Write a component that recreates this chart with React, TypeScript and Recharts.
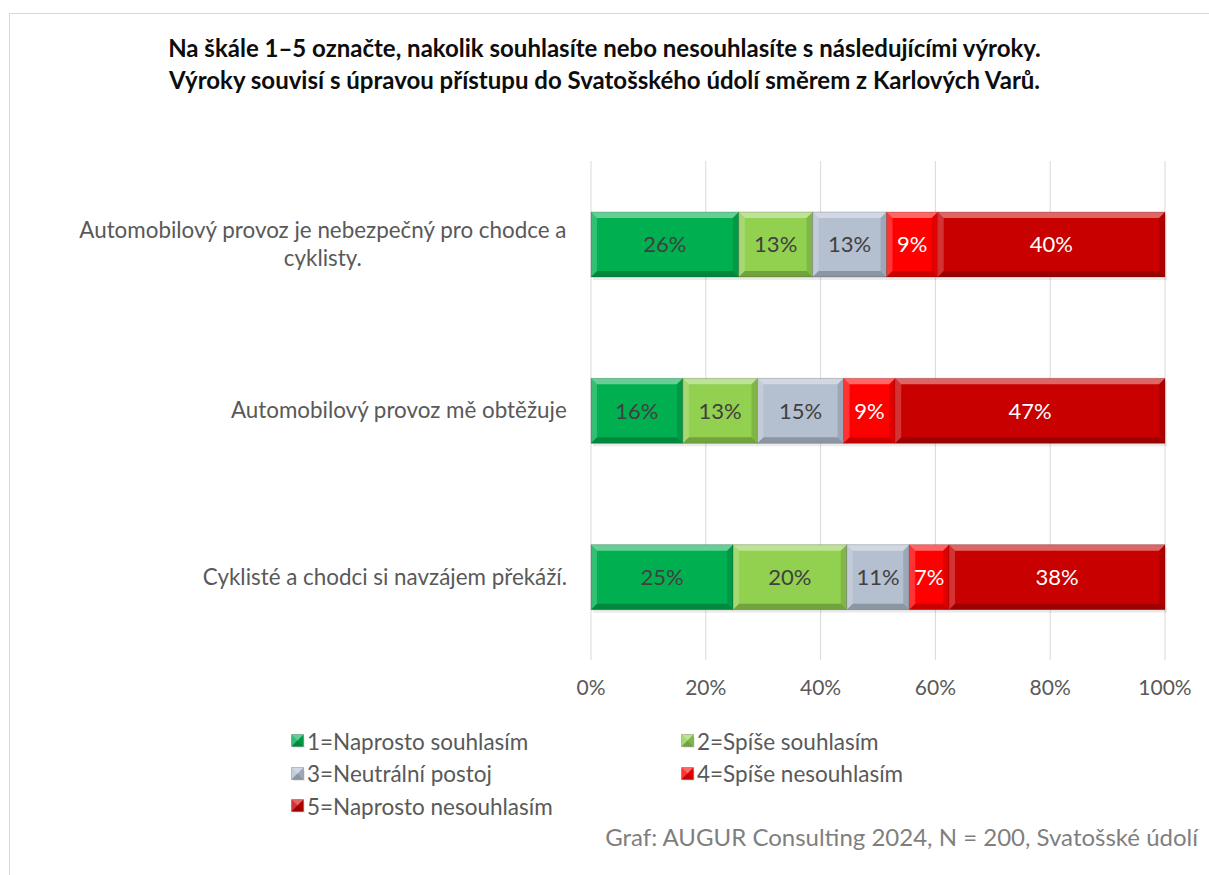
import React from "react";
import { Bar, BarChart, CartesianGrid, LabelList, XAxis, YAxis } from "recharts";

const FONT = "Lato, 'Open Sans', sans-serif";

const CATEGORIES = [
  "Automobilový provoz je nebezpečný pro chodce a|cyklisty.",
  "Automobilový provoz mě obtěžuje",
  "Cyklisté a chodci si navzájem překáží.",
];

const SERIES = [
  { key: "s1", name: "1=Naprosto souhlasím", color: "#00B050", text: "#404040" },
  { key: "s2", name: "2=Spíše souhlasím", color: "#92D050", text: "#404040" },
  { key: "s3", name: "3=Neutrální postoj", color: "#B4BFD0", text: "#404040" },
  { key: "s4", name: "4=Spíše nesouhlasím", color: "#FF0000", text: "#FFFFFF" },
  { key: "s5", name: "5=Naprosto nesouhlasím", color: "#C80000", text: "#FFFFFF" },
];

const S1 = [26, 16, 25];
const S2 = [13, 13, 20];
const S3 = [13, 15, 11];
const S4 = [9, 9, 7];
const S5 = [40, 47, 38];

const X_TICKS = [0, 0.2, 0.4, 0.6, 0.8, 1];

const data = CATEGORIES.map((c, i) => ({
  name: c,
  s1: S1[i],
  s2: S2[i],
  s3: S3[i],
  s4: S4[i],
  s5: S5[i],
}));

const CAT_SIZE = 22.4;

function measure(text: string, font: string) {
  const cv = document.createElement("canvas");
  const ctx = cv.getContext("2d");
  if (!ctx) return text.length * 10;
  ctx.font = font;
  return ctx.measureText(text).width;
}

function CategoryTick(props: any) {
  const { x, y, payload } = props;
  const lines: string[] = String(payload.value).split("|");
  const widths = lines.map((l) => measure(l, `${CAT_SIZE}px Lato`));
  const maxW = Math.max(...widths);
  const right = x - 16;
  const cx = right - maxW / 2;
  const lh = 28;
  const y0 = y - ((lines.length - 1) * lh) / 2;
  return (
    <g>
      {lines.map((l, i) => (
        <text
          key={i}
          x={cx}
          y={y0 + i * lh}
          dy="0.35em"
          textAnchor="middle"
          fill="#595959"
          fontSize={CAT_SIZE}
          fontFamily={FONT}
        >
          {l}
        </text>
      ))}
    </g>
  );
}

function BevelBar(props: any) {
  const { x, y, width: w, height: h, fill } = props;
  if (!w || !h) return null;
  const b = Math.min(6, w / 2, h / 2);
  return (
    <g>
      <rect x={x + 2} y={y + 3} width={w} height={h} fill="#000" opacity={0.08} />
      <rect x={x} y={y} width={w} height={h} fill={fill} />
      <polygon
        points={`${x},${y} ${x + w},${y} ${x + w - b},${y + b} ${x + b},${y + b}`}
        fill="#fff"
        opacity={0.4}
      />
      <polygon
        points={`${x},${y} ${x + b},${y + b} ${x + b},${y + h - b} ${x},${y + h}`}
        fill="#fff"
        opacity={0.2}
      />
      <polygon
        points={`${x + w},${y} ${x + w},${y + h} ${x + w - b},${y + h - b} ${x + w - b},${y + b}`}
        fill="#000"
        opacity={0.12}
      />
      <polygon
        points={`${x},${y + h} ${x + w},${y + h} ${x + w - b},${y + h - b} ${x + b},${y + h - b}`}
        fill="#000"
        opacity={0.22}
      />
      <rect x={x} y={y} width={w} height={h} fill="none" stroke="#000" strokeOpacity={0.18} />
    </g>
  );
}

function LegendIcon({ color }: { color: string }) {
  return (
    <svg width={14} height={14} style={{ display: "block" }}>
      <BevelBar x={0.5} y={0.5} width={12} height={12} fill={color} />
    </svg>
  );
}

export default function App() {
  return (
    <div
      style={{
        position: "absolute",
        left: 0,
        top: 0,
        width: 1209,
        height: 875,
        background: "#fff",
        overflow: "hidden",
        fontFamily: FONT,
      }}
    >
      <div
        style={{
          position: "absolute",
          left: 9,
          top: 13,
          width: 1220,
          height: 880,
          border: "1px solid #d9d9d9",
        }}
      />
      <div
        style={{
          position: "absolute",
          left: 0,
          top: 32,
          width: 1209,
          textAlign: "center",
          fontWeight: 700,
          fontSize: 24,
          lineHeight: "32px",
          color: "#0d0d0d",
        }}
      >
        Na škále 1–5 označte, nakolik souhlasíte nebo nesouhlasíte s následujícími výroky.
        <br />
        Výroky souvisí s úpravou přístupu do Svatošského údolí směrem z Karlových Varů.
      </div>
      <div style={{ position: "absolute", left: 0, top: 0 }}>
        <BarChart
          width={1209}
          height={875}
          data={data}
          layout="vertical"
          stackOffset="expand"
          barSize={65}
          margin={{ top: 161, right: 44, bottom: 185, left: 0 }}
        >
          <CartesianGrid horizontal={false} stroke="#d9d9d9" />
          <XAxis
            type="number"
            domain={[0, 1]}
            ticks={X_TICKS}
            tickFormatter={(v: number) => `${Math.round(v * 100)}%`}
            axisLine={false}
            tickLine={false}
            tickSize={0}
            tickMargin={20}
            height={30}
            tick={{ fill: "#595959", fontSize: 21, fontFamily: FONT }}
          />
          <YAxis
            type="category"
            dataKey="name"
            width={591}
            axisLine={false}
            tickLine={false}
            tick={<CategoryTick />}
          />
          {SERIES.map((s) => (
            <Bar
              key={s.key}
              dataKey={s.key}
              name={s.name}
              stackId="a"
              fill={s.color}
              shape={<BevelBar />}
              isAnimationActive={false}
            >
              <LabelList
                dataKey={s.key}
                position="center"
                formatter={(v: any) => `${v}%`}
                fill={s.text}
                fontSize={22}
                fontFamily={FONT}
              />
            </Bar>
          ))}
        </BarChart>
      </div>
      <div
        style={{
          position: "absolute",
          left: 291,
          top: 727,
          width: 800,
          display: "grid",
          gridTemplateColumns: "390px 390px",
          rowGap: 4,
          fontSize: 22.5,
          color: "#595959",
        }}
      >
        {SERIES.map((s) => (
          <div key={s.key} style={{ display: "flex", alignItems: "center", height: 28.5 }}>
            <LegendIcon color={s.color} />
            <span style={{ marginLeft: 2 }}>{s.name}</span>
          </div>
        ))}
      </div>
      <div
        style={{
          position: "absolute",
          right: 11,
          top: 822,
          fontSize: 24,
          color: "#7f7f7f",
          whiteSpace: "nowrap",
        }}
      >
        Graf: AUGUR Consulting 2024, N = 200, Svatošské údolí
      </div>
    </div>
  );
}
